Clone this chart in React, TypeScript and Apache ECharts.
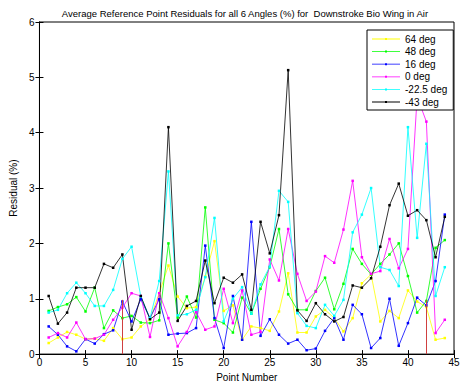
import React, { useEffect, useRef } from "react";
import * as echarts from "echarts";

const pointNumbers = Array.from({ length: 44 }, (_, i) => i + 1);
const seriesNames = ["64 deg", "48 deg", "16 deg", "0 deg", "-22.5 deg", "-43 deg"];
const seriesColors = ["#ffff00", "#00ff00", "#0000ff", "#ff00ff", "#00ffff", "#000000"];

const deg64 = [0.2, 0.3, 0.4, 0.35, 0.27, 0.28, 0.24, 0.47, 0.27, 0.3, 0.5, 0.63, 1.1, 1.6, 1.04, 0.83, 0.85, 1.4, 2.04, 0.78, 0.88, 0.26, 0.5, 0.47, 0.42, 0.77, 1.46, 0.39, 0.39, 0.68, 0.8, 0.65, 0.41, 0.65, 1.28, 1.44, 0.59, 0.78, 0.65, 1.15, 0.95, 0.85, 0.26, 0.29];
const deg48 = [0.78, 0.85, 0.9, 1.03, 0.77, 1.2, 0.47, 0.79, 0.65, 0.69, 0.57, 0.56, 0.61, 2.0, 0.66, 1.04, 0.66, 2.65, 0.62, 0.56, 0.39, 1.02, 0.73, 1.18, 1.57, 2.26, 1.08, 0.8, 0.8, 1.14, 1.38, 0.81, 1.27, 1.9, 1.63, 1.44, 1.63, 1.8, 2.0, 1.41, 0.75, 0.96, 1.92, 2.06];
const deg16 = [0.5, 0.35, 0.14, 0.05, 0.27, 0.19, 0.36, 0.43, 0.95, 0.59, 0.99, 0.65, 0.99, 0.35, 0.37, 0.38, 0.47, 1.96, 0.65, 0.11, 1.05, 0.26, 2.39, 0.33, 0.63, 0.35, 0.19, 0.26, 0.07, 0.1, 0.42, 0.65, 0.26, 0.89, 0.72, 0.11, 0.29, 1.0, 0.15, 0.56, 1.02, 0.88, 1.32, 2.52];
const deg0 = [0.3, 0.38, 0.3, 0.57, 0.27, 0.28, 0.35, 0.62, 0.84, 1.1, 1.05, 0.31, 1.1, 0.65, 0.14, 0.4, 0.76, 0.44, 0.5, 1.18, 0.56, 1.15, 0.35, 0.4, 1.71, 1.33, 2.26, 1.45, 0.96, 1.13, 1.77, 1.65, 2.25, 3.13, 1.75, 1.45, 1.5, 2.08, 1.55, 1.9, 4.65, 4.2, 0.38, 0.62];
const degM22 = [0.75, 0.8, 1.1, 1.29, 1.1, 0.87, 0.87, 1.16, 1.72, 1.94, 1.04, 0.65, 1.32, 3.3, 0.7, 0.72, 0.8, 1.39, 2.46, 0.59, 1.0, 1.21, 0.73, 1.26, 1.58, 2.95, 2.75, 0.74, 0.51, 0.47, 0.89, 0.69, 0.98, 2.2, 2.52, 3.0, 1.57, 1.52, 1.23, 4.1, 2.1, 3.8, 1.05, 1.57];
const degM43 = [1.05, 0.55, 0.75, 1.2, 1.2, 1.2, 1.63, 1.56, 1.8, 0.44, 1.05, 0.63, 0.75, 4.1, 0.6, 0.87, 0.96, 1.69, 0.92, 1.38, 1.29, 1.44, 0.8, 2.39, 1.82, 2.51, 5.13, 0.79, 0.6, 0.92, 0.72, 0.59, 0.67, 1.24, 1.2, 1.37, 1.94, 2.69, 3.08, 2.5, 2.6, 2.42, 1.75, 2.48];
const allValues = [deg64, deg48, deg16, deg0, degM22, degM43];

const redLineX = [9, 42];
const redLineTop = [0.98, 0.98];

const xTicks = [0, 45, 5];
const yTicks = [0, 6, 1];

const FONT = "Liberation Sans";
const LEGEND_ICON =
  "path://M0,0h0.01v0.01h-0.01Z M0,4.6H28V5.4H0Z M13,4H15V6H13Z M27.99,9.99h0.01v0.01h-0.01Z";

export default function App() {
  const ref = useRef<HTMLDivElement>(null);
  useEffect(() => {
    if (!ref.current) return;
    const chart = echarts.init(ref.current, null, { renderer: "svg" });
    const axisCommon = {
      axisLine: { lineStyle: { color: "#000", width: 1 } },
      axisTick: { inside: true, length: 4, lineStyle: { color: "#000" } },
      splitLine: { show: false },
    };
    const lineSeries = allValues.map((vals, k) => ({
      type: "line",
      name: seriesNames[k],
      data: vals.map((v, i) => [pointNumbers[i], v]),
      xAxisIndex: 0,
      yAxisIndex: 0,
      symbol: "rect",
      symbolSize: 2.5,
      color: seriesColors[k],
      itemStyle: { color: seriesColors[k] },
      lineStyle: { color: seriesColors[k], width: 0.8 },
      emphasis: { disabled: true },
    }));
    const redSeries = {
      type: "line",
      name: "marks",
      data: [],
      xAxisIndex: 0,
      yAxisIndex: 0,
      markLine: {
        silent: true,
        symbol: ["none", "none"],
        label: { show: false },
        lineStyle: { color: "#d04040", width: 1, type: "solid" },
        data: redLineX.map((x, i) => [
          { coord: [x, 0] },
          { coord: [x, redLineTop[i]] },
        ]),
      },
    };
    chart.setOption({
      animation: false,
      backgroundColor: "#fff",
      textStyle: { fontFamily: FONT },
      title: {
        text: "Average Reference Point Residuals for all 6 Angles (%) for  Downstroke Bio Wing in Air",
        left: 240,
        textAlign: "center",
        top: 3,
        textStyle: { fontFamily: FONT, fontSize: 9.5, fontWeight: "normal", color: "#000" },
      },
      legend: {
        orient: "vertical",
        left: 367,
        top: 30,
        padding: [4, 6, 3, 5],
        itemWidth: 28,
        itemHeight: 10,
        itemGap: 2.6,
        icon: LEGEND_ICON,
        backgroundColor: "#fff",
        borderColor: "#000",
        borderWidth: 1,
        borderRadius: 0,
        data: seriesNames,
        textStyle: { fontFamily: FONT, fontSize: 10, color: "#000" },
      },
      grid: { left: 29, right: 9, top: 22, bottom: 29, show: true, borderColor: "#000", borderWidth: 1, backgroundColor: "#fff" },
      xAxis: [
        {
          type: "value",
          min: xTicks[0],
          max: xTicks[1],
          interval: xTicks[2],
          name: "Point Number",
          nameLocation: "middle",
          nameGap: 14,
          nameTextStyle: { fontFamily: FONT, fontSize: 10, color: "#000" },
          axisLabel: { fontFamily: FONT, fontSize: 10, color: "#000", margin: 3 },
          ...axisCommon,
        },
        {
          type: "value",
          position: "top",
          min: xTicks[0],
          max: xTicks[1],
          interval: xTicks[2],
          axisLabel: { show: false },
          ...axisCommon,
        },
      ],
      yAxis: [
        {
          type: "value",
          min: yTicks[0],
          max: yTicks[1],
          interval: yTicks[2],
          name: "Residual (%)",
          nameLocation: "middle",
          nameGap: 18,
          nameTextStyle: { fontFamily: FONT, fontSize: 10, color: "#000" },
          axisLabel: { fontFamily: FONT, fontSize: 10, color: "#000", margin: 5 },
          ...axisCommon,
        },
        {
          type: "value",
          position: "right",
          min: yTicks[0],
          max: yTicks[1],
          interval: yTicks[2],
          axisLabel: { show: false },
          ...axisCommon,
        },
      ],
      series: [redSeries, ...lineSeries],
    });
    return () => chart.dispose();
  }, []);
  return (
    <div
      ref={ref}
      style={{ position: "fixed", left: 0, top: 0, width: 463, height: 387, background: "#fff" }}
    />
  );
}
